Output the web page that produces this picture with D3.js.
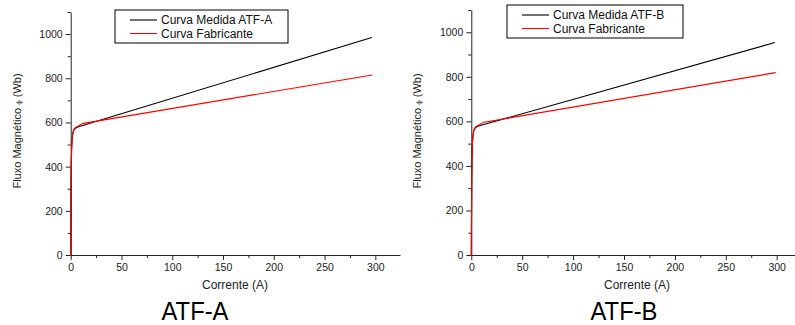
<!DOCTYPE html>
<html>
<head>
<meta charset="utf-8">
<script src="https://cdn.jsdelivr.net/npm/d3@7"></script>
<style>
    body { margin: 0; background: #fff; }
    svg { display: block; font-family: "Liberation Sans", Arial, sans-serif; }
</style>
</head>
<body>
<svg id="canvas" width="795" height="325"></svg>
<script>
// ATF-A, measured curve (current in A, flux in Wb)
var correnteMedidaA = [0, 0.2, 0.4, 0.6, 0.9, 1.3, 1.8, 2.4, 3.2, 4.2, 5.5, 7, 296.5];
var fluxoMedidaA    = [0, 180, 330, 420, 478, 515, 540, 556, 566, 572, 576, 579, 985];
// ATF-A, manufacturer curve
var correnteFabA = [0, 0.2, 0.4, 0.6, 0.9, 1.3, 1.8, 2.4, 3.2, 4.2, 5.5, 7.5, 10, 12.5, 297];
var fluxoFabA    = [0, 180, 330, 420, 478, 517, 543, 559, 569, 575, 579, 584, 591, 596, 815];

// ATF-B, measured curve
var correnteMedidaB = [0, 0.2, 0.4, 0.6, 0.9, 1.3, 1.8, 2.4, 3.2, 4.2, 5.5, 7, 298.3];
var fluxoMedidaB    = [0, 180, 330, 420, 478, 515, 540, 556, 566, 572, 576, 579, 954];
// ATF-B, manufacturer curve
var correnteFabB = [0, 0.2, 0.4, 0.6, 0.9, 1.3, 1.8, 2.4, 3.2, 4.2, 5.5, 7.5, 10, 12.5, 299];
var fluxoFabB    = [0, 180, 330, 420, 478, 517, 543, 559, 569, 575, 579, 584, 591, 596, 819];

var yMajorTicks = [0, 200, 400, 600, 800, 1000];
var yMinorTicks = [100, 300, 500, 700, 900, 1100];
var xMajorTicks = [0, 50, 100, 150, 200, 250, 300];
var xMinorTicks = [25, 75, 125, 175, 225, 275];

var legendMedidaA = "Curva Medida ATF-A";
var legendMedidaB = "Curva Medida ATF-B";
var legendFab = "Curva Fabricante";

function zip(xs, ys) {
    "use strict";
    return xs.map(function(x, i) { return [x, ys[i]]; });
}

function drawPanel(p) {
    "use strict";

    var svg = d3.select(document.getElementById('canvas'));
    var g = svg.append('g');

    var x = d3.scaleLinear().domain([0, p.xMax]).range([p.x0, p.x1]);
    var y = d3.scaleLinear().domain([0, 1100]).range([255, p.yTop]);
    var fmt = d3.format('d');

    // axes
    g.append('g').attr('transform', 'translate(0,255)')
        .call(d3.axisBottom(x).tickValues(xMajorTicks).tickFormat(fmt).tickSize(5).tickPadding(4).tickSizeOuter(0));
    g.append('g').attr('transform', 'translate(0,255)')
        .call(d3.axisBottom(x).tickValues(xMinorTicks).tickSize(3).tickFormat('').tickSizeOuter(0))
        .select('.domain').remove();
    g.append('g').attr('transform', 'translate(' + p.x0 + ',0)')
        .call(d3.axisLeft(y).tickValues(yMajorTicks).tickFormat(fmt).tickSize(5).tickPadding(3).tickSizeOuter(0));
    g.append('g').attr('transform', 'translate(' + p.x0 + ',0)')
        .call(d3.axisLeft(y).tickValues(yMinorTicks).tickSize(3).tickFormat('').tickSizeOuter(0))
        .select('.domain').remove();

    g.selectAll('.domain, .tick line').attr('stroke', '#222').attr('stroke-width', 1);
    g.selectAll('.tick text')
        .attr('font-family', '"Liberation Sans", Arial, sans-serif')
        .attr('font-size', '10.5px')
        .attr('fill', '#222');

    // curves
    var line = d3.line()
        .x(function(d) { return x(d[0]); })
        .y(function(d) { return y(d[1]); });

    g.append('path')
        .datum(zip(p.medX, p.medY))
        .attr('d', line)
        .attr('fill', 'none')
        .attr('stroke', '#000')
        .attr('stroke-width', 1.1);
    g.append('path')
        .datum(zip(p.fabX, p.fabY))
        .attr('d', line)
        .attr('fill', 'none')
        .attr('stroke', '#f00')
        .attr('stroke-width', 1.1);

    // axis labels
    g.append('text')
        .attr('x', p.xLabelX).attr('y', 289)
        .attr('text-anchor', 'middle')
        .attr('font-size', '12px')
        .attr('fill', '#222')
        .text('Corrente (A)');

    var yl = g.append('text')
        .attr('transform', 'translate(' + p.yLabelX + ',131) rotate(-90)')
        .attr('text-anchor', 'middle')
        .attr('font-size', '11px')
        .attr('fill', '#222');
    yl.append('tspan').text('Fluxo Magnético ');
    yl.append('tspan').attr('font-size', '8px').text('ϕ');
    yl.append('tspan').text(' (Wb)');

    // legend
    var lg = g.append('g');
    lg.append('rect')
        .attr('x', p.legX).attr('y', p.legY)
        .attr('width', p.legW).attr('height', 33)
        .attr('fill', '#fff')
        .attr('stroke', '#000')
        .attr('stroke-width', 1);
    [[p.legendMed, '#000'], [legendFab, '#f00']].forEach(function(item, i) {
        var ly = p.legY + 10 + i * 13.5;
        lg.append('line')
            .attr('x1', p.legX + 15).attr('x2', p.legX + 42)
            .attr('y1', ly).attr('y2', ly)
            .attr('stroke', item[1]).attr('stroke-width', 1.1);
        lg.append('text')
            .attr('x', p.legX + 46).attr('y', ly + 4)
            .attr('font-size', '12px')
            .attr('fill', '#111')
            .text(item[0]);
    });

    // title
    g.append('text')
        .attr('x', p.titleX).attr('y', 320)
        .attr('text-anchor', 'middle')
        .attr('font-size', '26px')
        .attr('textLength', 67)
        .attr('lengthAdjust', 'spacingAndGlyphs')
        .attr('fill', '#000')
        .text(p.title);
}

drawPanel({
    x0: 70.7, x1: 400, xMax: 324.3, yTop: 12,
    medX: correnteMedidaA, medY: fluxoMedidaA,
    fabX: correnteFabA, fabY: fluxoFabA,
    legendMed: legendMedidaA,
    legX: 115, legY: 10, legW: 173,
    xLabelX: 235, yLabelX: 21,
    title: 'ATF-A', titleX: 195
});

drawPanel({
    x0: 471.3, x1: 795, xMax: 318, yTop: 10,
    medX: correnteMedidaB, medY: fluxoMedidaB,
    fabX: correnteFabB, fabY: fluxoFabB,
    legendMed: legendMedidaB,
    legX: 507, legY: 5, legW: 176,
    xLabelX: 637, yLabelX: 421,
    title: 'ATF-B', titleX: 624
});
</script>
</body>
</html>
